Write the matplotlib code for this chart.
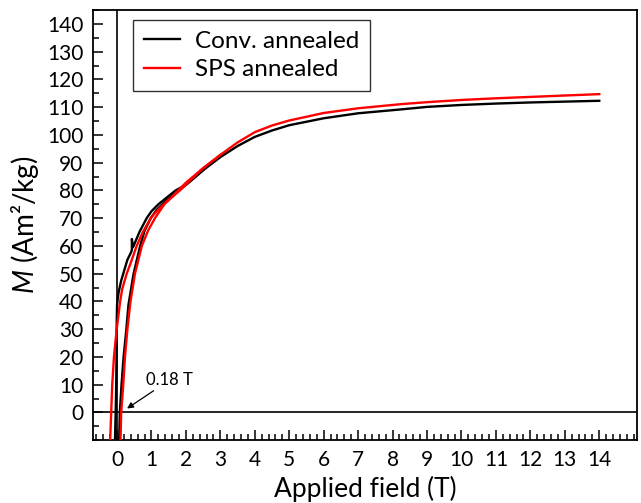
import matplotlib.pyplot as plt
from matplotlib.ticker import MultipleLocator

plt.rcParams['font.family'] = ['Lato', 'DejaVu Sans']
plt.rcParams['mathtext.fontset'] = 'custom'
plt.rcParams['mathtext.it'] = 'Lato:italic'
plt.rcParams['mathtext.rm'] = 'Lato'

# --- M(H) loops, field in T, magnetisation in Am2/kg ---
# Conv. annealed: branch coming down from high field
conv_down_H = [14.0, 13.0, 12.0, 11.0, 10.0, 9.0, 8.25, 7.0, 6.0, 5.0, 4.5, 4.0,
               3.5, 3.0, 2.5, 2.0, 1.7, 1.2, 1.0, 0.86, 0.65, 0.48, 0.46, 0.43,
               0.43, 0.40, 0.30, 0.18, 0.12, 0.05, 0.02, 0.0, -0.008, -0.012,
               -0.015, -0.025, -0.04, -0.06, -0.08]
conv_down_M = [112.3, 112.0, 111.7, 111.3, 110.8, 110.1, 109.2, 107.8, 106.0, 103.5,
               101.6, 99.3, 96.0, 92.0, 87.3, 82.0, 80.0, 75.0, 72.5, 70.0, 65.0,
               60.0, 59.5, 62.5, 58.5, 57.5, 55.0, 50.0, 47.5, 43.5, 41.0, 38.7,
               34.0, 30.0, 20.0, 10.0, 0.0, -10.0, -15.0]
# Conv. annealed: branch going back up
conv_up_H = [0.05, 0.06, 0.08, 0.13, 0.19, 0.27, 0.33, 0.48, 0.67, 0.8, 0.98, 1.15,
             1.4, 2.0, 2.5]
conv_up_M = [-15.0, -10.0, 0.0, 10.0, 20.0, 30.0, 38.7, 50.0, 60.0, 65.5, 70.0, 73.0,
             76.0, 82.0, 87.3]

# SPS annealed: branch coming down from high field
sps_down_H = [14.0, 13.0, 12.0, 11.0, 10.0, 9.0, 8.25, 7.0, 6.0, 5.0, 4.5, 4.0,
              3.5, 3.0, 2.5, 2.0, 1.8, 1.5, 1.25, 1.0, 0.75, 0.57, 0.4, 0.28, 0.15,
              0.09, 0.04, -0.01, -0.09, -0.14, -0.17, -0.2, -0.22]
sps_down_M = [114.7, 114.2, 113.7, 113.2, 112.6, 111.8, 111.1, 109.6, 107.9, 105.2,
              103.4, 101.0, 97.3, 92.8, 88.0, 82.8, 80.3, 76.5, 73.8, 70.5, 65.0,
              60.0, 54.0, 50.0, 44.5, 40.0, 35.0, 30.0, 20.0, 10.0, 0.0, -10.0, -15.0]
# SPS annealed: branch going back up
sps_up_H = [0.09, 0.1, 0.12, 0.18, 0.23, 0.3, 0.39, 0.52, 0.72, 0.9, 1.1, 1.4, 1.85,
            2.45, 3.0]
sps_up_M = [-15.0, -10.0, 0.0, 10.0, 20.0, 30.0, 40.0, 50.0, 60.0, 65.5, 70.0, 75.5,
            80.3, 87.5, 92.8]

fig = plt.figure(figsize=(6.41, 5.03), dpi=100)
ax = fig.add_axes([0.145, 0.125, 0.849, 0.855])

ax.axhline(0, color='black', lw=1.2, zorder=1)
ax.axvline(0, color='black', lw=1.2, zorder=1)

lw = 1.7
ax.plot(conv_down_H, conv_down_M, color='black', lw=lw, label='Conv. annealed', zorder=2)
ax.plot(conv_up_H, conv_up_M, color='black', lw=lw, zorder=2)
ax.plot(sps_down_H, sps_down_M, color='red', lw=lw, label='SPS annealed', zorder=3)
ax.plot(sps_up_H, sps_up_M, color='red', lw=lw, zorder=3)

ax.annotate('0.18 T', xy=(0.29, 1.4), xytext=(0.85, 8.8), fontsize=12,
            ha='left', va='bottom',
            arrowprops=dict(arrowstyle='-|>', color='black', lw=0.9,
                            mutation_scale=9, shrinkA=0, shrinkB=0))

ax.set_xlim(-0.7, 15.1)
ax.set_ylim(-10, 145)
ax.set_xticks(range(0, 15))
ax.set_yticks(range(0, 141, 10))
ax.xaxis.set_minor_locator(MultipleLocator(0.2))
ax.yaxis.set_minor_locator(MultipleLocator(5))
ax.tick_params(which='both', direction='in', labelsize=15, width=1.1,
               top=False, right=False)
ax.tick_params(which='major', length=7, pad=7)
ax.tick_params(which='minor', length=4)
for sp in ax.spines.values():
    sp.set_linewidth(1.3)

ax.set_xlabel('Applied field (T)', fontsize=19, labelpad=4)
ax.set_ylabel('$M$ (Am²/kg)', fontsize=20, labelpad=4)

leg = ax.legend(loc='upper left', bbox_to_anchor=(0.0735, 0.977), fontsize=17.5,
                frameon=True, fancybox=False, edgecolor='black', handlelength=1.5,
                handletextpad=0.6, borderpad=0.45, labelspacing=0.3,
                borderaxespad=0)
leg.get_frame().set_linewidth(1.0)

fig.savefig('out.png', dpi=100)
